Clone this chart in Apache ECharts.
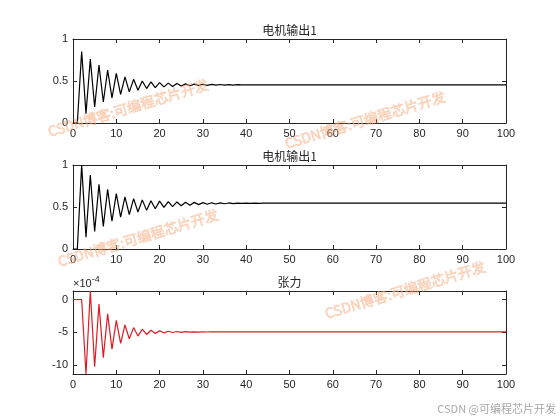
<!DOCTYPE html>
<html><head><meta charset="utf-8">
<script src="https://cdn.jsdelivr.net/npm/echarts@6/dist/echarts.min.js"></script>
<style>html,body{margin:0;padding:0;background:#fff}#c{width:560px;height:420px}</style>
</head><body><div id="c"></div>
<script>
const titles = ['电机输出1', '电机输出1', '张力'];
const xTicks = [0, 10, 20, 30, 40, 50, 60, 70, 80, 90, 100];
const yTicksMotor = [0, 0.5, 1];
const yTicksTension = [-10, -5, 0];
const tensionExponent = '-4';
const watermarkText = 'CSDN博客:可编程芯片开发';
const footerText = 'CSDN @可编程芯片开发';

const motor1 = [
  0, 0, 0.85, 0.11, 0.76, 0.19, 0.69, 0.25, 0.63, 0.30,
  0.59, 0.34, 0.55, 0.37, 0.52, 0.39, 0.50, 0.41, 0.49, 0.42,
  0.48, 0.43, 0.475, 0.435, 0.47, 0.44, 0.466, 0.443, 0.463, 0.446,
  0.461, 0.448, 0.459, 0.450, 0.458, 0.451, 0.457, 0.452, 0.456, 0.453,
  0.455, 0.454, 0.455, 0.455, 0.455, 0.455, 0.455, 0.455, 0.455, 0.455,
  0.455, 0.455, 0.455, 0.455, 0.455, 0.455, 0.455, 0.455, 0.455, 0.455,
  0.455, 0.455, 0.455, 0.455, 0.455, 0.455, 0.455, 0.455, 0.455, 0.455,
  0.455, 0.455, 0.455, 0.455, 0.455, 0.455, 0.455, 0.455, 0.455, 0.455,
  0.455, 0.455, 0.455, 0.455, 0.455, 0.455, 0.455, 0.455, 0.455, 0.455,
  0.455, 0.455, 0.455, 0.455, 0.455, 0.455, 0.455, 0.455, 0.455, 0.455,
  0.455
];
const motor2 = [
  0, 0, 1.0, 0.14, 0.88, 0.21, 0.77, 0.27, 0.71, 0.33,
  0.66, 0.38, 0.62, 0.41, 0.60, 0.44, 0.585, 0.46, 0.575, 0.48,
  0.57, 0.495, 0.565, 0.505, 0.56, 0.515, 0.557, 0.522, 0.555, 0.528,
  0.552, 0.533, 0.550, 0.536, 0.549, 0.539, 0.548, 0.541, 0.547, 0.542,
  0.546, 0.543, 0.546, 0.544, 0.545, 0.545, 0.545, 0.545, 0.545, 0.545,
  0.545, 0.545, 0.545, 0.545, 0.545, 0.545, 0.545, 0.545, 0.545, 0.545,
  0.545, 0.545, 0.545, 0.545, 0.545, 0.545, 0.545, 0.545, 0.545, 0.545,
  0.545, 0.545, 0.545, 0.545, 0.545, 0.545, 0.545, 0.545, 0.545, 0.545,
  0.545, 0.545, 0.545, 0.545, 0.545, 0.545, 0.545, 0.545, 0.545, 0.545,
  0.545, 0.545, 0.545, 0.545, 0.545, 0.545, 0.545, 0.545, 0.545, 0.545,
  0.545
];
// tension values in units of 1e-4
const tension = [
  0, 0, 0, -11.4, 1.3, -10.3, -0.7, -8.9, -2.2, -7.6,
  -3.2, -6.7, -3.9, -6.0, -4.3, -5.6, -4.55, -5.35, -4.7, -5.2,
  -4.8, -5.1, -4.86, -5.05, -4.9, -5.02, -4.93, -5.0, -4.95, -4.98,
  -4.96, -4.97, -4.96, -4.96, -4.96, -4.96, -4.96, -4.96, -4.96, -4.96,
  -4.96, -4.96, -4.96, -4.96, -4.96, -4.96, -4.96, -4.96, -4.96, -4.96,
  -4.96, -4.96, -4.96, -4.96, -4.96, -4.96, -4.96, -4.96, -4.96, -4.96,
  -4.96, -4.96, -4.96, -4.96, -4.96, -4.96, -4.96, -4.96, -4.96, -4.96,
  -4.96, -4.96, -4.96, -4.96, -4.96, -4.96, -4.96, -4.96, -4.96, -4.96,
  -4.96, -4.96, -4.96, -4.96, -4.96, -4.96, -4.96, -4.96, -4.96, -4.96,
  -4.96, -4.96, -4.96, -4.96, -4.96, -4.96, -4.96, -4.96, -4.96, -4.96,
  -4.96
];

const AX = '#262626';
const labelFont = { fontFamily: '"Liberation Sans Narrow", "Liberation Sans", Arial', fontSize: 11, color: AX };
const grids = [
  { left: 73, top: 39, width: 433, height: 84 },
  { left: 73, top: 165, width: 433, height: 84 },
  { left: 73, top: 291, width: 433, height: 83 }
];
const yRanges = [
  { min: 0, max: 1, ticks: yTicksMotor },
  { min: 0, max: 1, ticks: yTicksMotor },
  { min: -11.4, max: 1.3, ticks: yTicksTension }
];
const seriesData = [motor1, motor2, tension];
const colors = ['#000000', '#000000', '#e01b22'];

const xAxes = [], yAxes = [], series = [], graphics = [];
grids.forEach((g, i) => {
  ['bottom', 'top'].forEach((pos, k) => {
    xAxes.push({
      type: 'value', gridIndex: i, position: pos, min: 0, max: 100,
      axisLine: { show: true, onZero: false, lineStyle: { color: AX, width: 1 } },
      axisTick: { show: true, inside: true, length: 4, customValues: xTicks, lineStyle: { color: AX } },
      axisLabel: Object.assign({ show: k === 0, margin: 5, customValues: xTicks }, labelFont),
      splitLine: { show: false }
    });
  });
  ['left', 'right'].forEach((pos, k) => {
    yAxes.push({
      type: 'value', gridIndex: i, position: pos, min: yRanges[i].min, max: yRanges[i].max,
      axisLine: { show: true, onZero: false, lineStyle: { color: AX, width: 1 } },
      axisTick: { show: true, inside: true, length: 4, customValues: yRanges[i].ticks, lineStyle: { color: AX } },
      axisLabel: Object.assign({ show: k === 0, margin: 5, customValues: yRanges[i].ticks }, labelFont),
      splitLine: { show: false }
    });
  });
  series.push({
    type: 'line', xAxisIndex: 2 * i, yAxisIndex: 2 * i,
    data: seriesData[i].map((v, t) => [t, v]),
    showSymbol: false, symbol: 'none',
    lineStyle: { color: colors[i], width: 1.2 },
    animation: false
  });
  graphics.push({
    type: 'text', x: g.left + g.width / 2, y: g.top - 9,
    style: { text: titles[i], align: 'center', verticalAlign: 'middle',
      font: '12px "Noto Sans CJK SC"', fill: '#262626' }
  });
});

graphics.push({
  type: 'text', x: 73, y: 284,
  style: {
    text: '{a|×10}{b|' + tensionExponent + '}', align: 'left', verticalAlign: 'middle',
    rich: {
      a: { fontFamily: '"Liberation Sans Narrow", "Liberation Sans"', fontSize: 11, fill: AX, color: AX },
      b: { fontFamily: '"Liberation Sans Narrow", "Liberation Sans"', fontSize: 9, fill: AX, color: AX, verticalAlign: 'top', padding: [0, 0, 8, 0] }
    }
  }
});

const wmPos = [[128, 108], [365, 120], [138, 238], [405, 290]];
wmPos.forEach(p => {
  graphics.push({
    type: 'text', x: p[0], y: p[1], rotation: 0.29, z: 100,
    style: { text: watermarkText, align: 'center', verticalAlign: 'middle',
      font: '14px "Noto Sans CJK SC"', fill: 'rgba(250,190,150,0.45)',
      stroke: 'rgba(240,130,70,0.3)', lineWidth: 0.8 }
  });
});
graphics.push({
  type: 'text', x: 556, y: 409, z: 100,
  style: { text: footerText, align: 'right', verticalAlign: 'middle',
    font: '11px "Noto Sans CJK SC"', fill: '#a8a8a8' }
});

const chart = echarts.init(document.getElementById('c'), null, { renderer: 'canvas' });
chart.setOption({
  animation: false,
  backgroundColor: '#ffffff',
  grid: grids,
  xAxis: xAxes,
  yAxis: yAxes,
  series: series,
  graphic: graphics
});
</script></body></html>
